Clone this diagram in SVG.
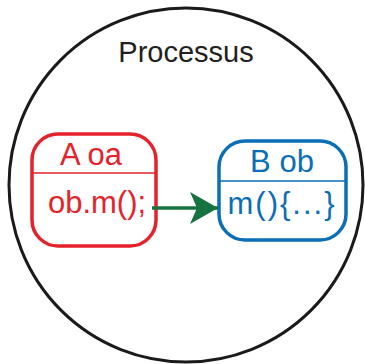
<svg xmlns="http://www.w3.org/2000/svg" width="365" height="364" viewBox="0 0 365 364">
<defs>
<style>
text{font-family:"Liberation Sans",Arial,sans-serif;text-anchor:middle}
.red{fill:none;stroke:#e52229;stroke-width:3.5}
.blue{fill:none;stroke:#0a6fb7;stroke-width:3.5}
</style>
<marker id="ah" markerUnits="userSpaceOnUse" markerWidth="30" markerHeight="34" refX="28" refY="16" orient="auto">
<path d="M0,0 L28,16 L0,32 L7,16 Z" fill="#17733f"/>
</marker>
</defs>
<g id="process">
<circle cx="186" cy="185" r="177" fill="#fff" stroke="#1a1a1a" stroke-width="3"/>
<text x="186" y="62" font-size="29" fill="#231f20">Processus</text>
</g>
<g id="oa">
<rect x="32" y="134" width="124" height="112" rx="26" class="red"/>
<line x1="32" y1="173" x2="156" y2="173" stroke="#e52229" stroke-width="1.5"/>
<text x="91" y="165" font-size="31" fill="#e52229">A oa</text>
<text x="97" y="213" font-size="31" fill="#e52229">ob.m();</text>
</g>
<g id="ob">
<rect x="219" y="141" width="127" height="99" rx="26" class="blue"/>
<line x1="219" y1="181" x2="346" y2="181" stroke="#0a6fb7" stroke-width="1.5"/>
<text x="282" y="172" font-size="31" fill="#0a6fb7">B ob</text>
<text x="282" y="214" font-size="31" letter-spacing="2" fill="#0a6fb7">m(){...}</text>
</g>
<g id="connectors">
<line x1="152" y1="208" x2="218" y2="208" stroke="#17733f" stroke-width="3.5" marker-end="url(#ah)"/>
</g>
</svg>
